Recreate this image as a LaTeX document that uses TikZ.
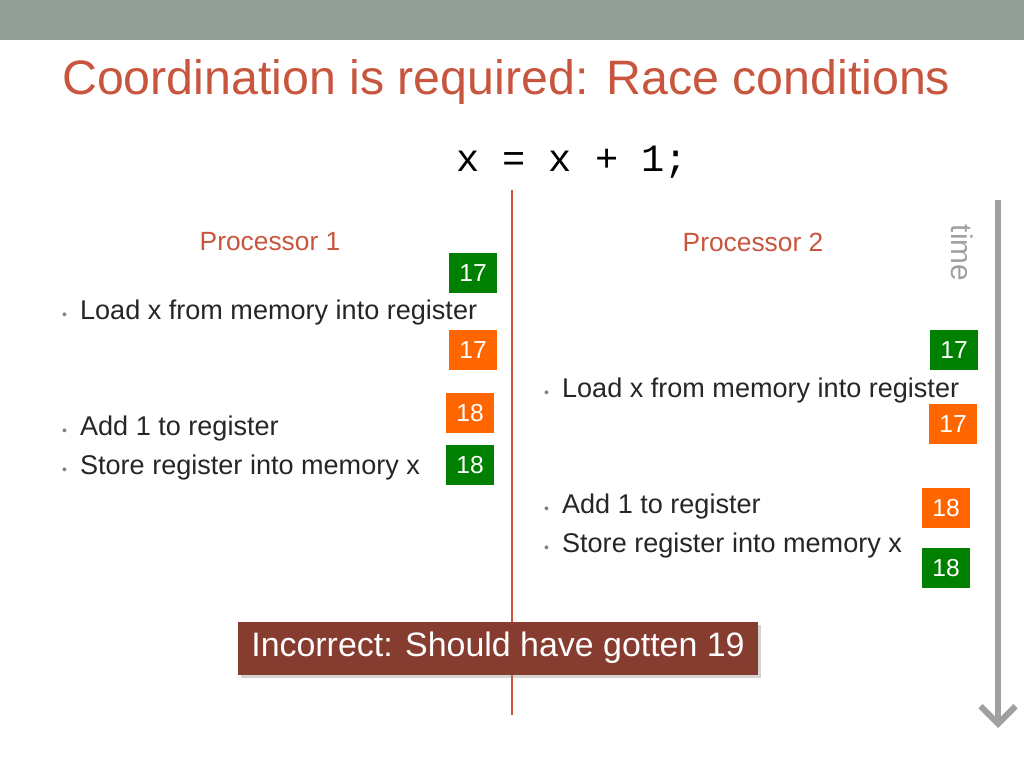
\documentclass[tikz,border=0pt]{standalone}
\usepackage{fontspec}
\setmainfont{Liberation Sans}
\setmonofont{Liberation Mono}
\usepackage{tikz}
\usetikzlibrary{positioning, arrows.meta, shadows}
\definecolor{barGray}{RGB}{146,160,153}
\definecolor{titleRed}{RGB}{200,85,61}
\definecolor{valGreen}{RGB}{0,128,0}
\definecolor{valOrange}{RGB}{255,102,0}
\definecolor{timeGray}{RGB}{160,160,160}
\definecolor{noteBrown}{RGB}{135,60,48}
\tikzset{
    px/.style={x=0.02cm, y=-0.02cm},
    valbox/.style={minimum width=0.96cm, minimum height=0.8cm, inner sep=0, text=white, font=\fontsize{14}{14}\selectfont},
    bullet/.style={anchor=west, font=\fontsize{15.4}{16}\selectfont, text=black!85},
    proc/.style={text=titleRed, font=\fontsize{15}{16}\selectfont}
}
\begin{document}
\begin{tikzpicture}[px]
    \useasboundingbox (0,0) rectangle (1024,768);
    % top bar
    \fill[barGray] (0,0) rectangle (1024,40);

    \node[anchor=west, text=titleRed, font=\fontsize{27.5}{28}\selectfont] (title) at (56,82) {Coordination is required: Race conditions};
    \node[font=\ttfamily\fontsize{22}{22}\selectfont] (code) at (572,162) {x = x + 1;};

    % divider
    \coordinate (divtop) at (512,190);
    \coordinate (divbot) at (512,715);
    \draw[titleRed, line width=1.2pt] (divtop) -- (divbot);

    \node[proc] (proc1) at (270,242) {Processor 1};
    \node[proc] (proc2) at (753,242) {Processor 2};

    % time axis
    \node[rotate=-90, text=timeGray, font=\fontsize{17}{17}\selectfont] (time) at (962,253) {time};
    \coordinate (ttop) at (998,200);
    \coordinate (tbot) at (998,728);
    \draw[timeGray, line width=3.5pt, -{Straight Barb[length=3.5mm, width=7mm]}] (ttop) -- (tbot);

    % steps
    \foreach \name/\x/\y/\txt in {
        l1/56/312/Load x from memory into register,
        l2/56/428/Add 1 to register,
        l3/56/467/Store register into memory x,
        r1/538/390/Load x from memory into register,
        r2/538/506/Add 1 to register,
        r3/538/545/Store register into memory x}{
        \node[bullet] (\name) at (\x,\y) {{\color{black!50}\fontsize{8}{8}\selectfont\textbullet}\hspace{2.6mm}\txt};
    }

    % register / memory values
    \foreach \name/\x/\y/\co/\v in {
        v1/473/273/valGreen/17,
        v2/473/350/valOrange/17,
        v3/470/413/valOrange/18,
        v4/470/465/valGreen/18,
        v5/954/350/valGreen/17,
        v6/953/424/valOrange/17,
        v7/946/508/valOrange/18,
        v8/946/568/valGreen/18}{
        \node[valbox, fill=\co] (\name) at (\x,\y) {\v};
    }

    \node[fill=noteBrown, text=white, minimum width=10.4cm, minimum height=1.06cm, drop shadow={shadow xshift=0.6mm, shadow yshift=-0.6mm, opacity=0.35}, font=\fontsize{19.3}{20}\selectfont] (note) at (498,648) {Incorrect: Should have gotten 19};
\end{tikzpicture}
\end{document}
